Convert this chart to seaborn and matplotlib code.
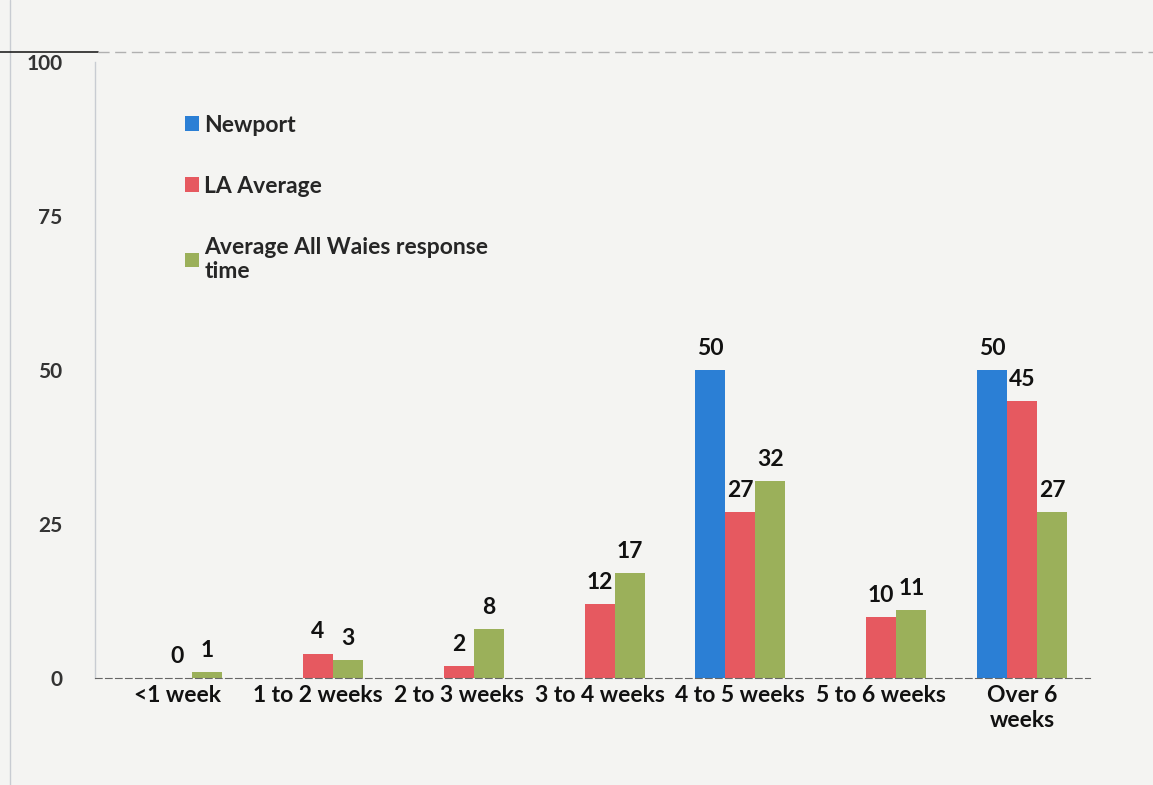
import numpy as np
import pandas as pd
import matplotlib
matplotlib.use("Agg")
import matplotlib.pyplot as plt
import seaborn as sns

categories = ["<1 week", "1 to 2 weeks", "2 to 3 weeks", "3 to 4 weeks",
              "4 to 5 weeks", "5 to 6 weeks", "Over 6\nweeks"]
newport = [np.nan, np.nan, np.nan, np.nan, 50, np.nan, 50]
la_average = [0, 4, 2, 12, 27, 10, 45]
all_wales = [1, 3, 8, 17, 32, 11, 27]
series_names = ["Newport", "LA Average", "Average All Waies response\ntime"]
yticks = [0, 25, 50, 75, 100]

colors = ["#2b7fd5", "#e65960", "#9bb05a"]
bg = "#f4f4f2"

df = pd.DataFrame({
    "cat": categories * 3,
    "val": newport + la_average + all_wales,
    "series": [series_names[0]] * 7 + [series_names[1]] * 7 + [series_names[2]] * 7,
})

sns.set_style("white")
plt.rcParams["font.family"] = ["Lato", "DejaVu Sans"]
plt.rcParams["font.weight"] = "bold"

fig = plt.figure(figsize=(11.53, 7.85), dpi=100, facecolor=bg)
ax = fig.add_axes([0.082, 0.136, 0.863, 0.785])
ax.set_facecolor(bg)

sns.barplot(data=df, x="cat", y="val", hue="series", palette=colors,
            errorbar=None, width=0.64, saturation=1, linewidth=0, ax=ax)

# value labels, skip the missing Newport bars
for cont in ax.containers:
    for p in cont:
        h = p.get_height()
        if np.isnan(h):
            continue
        ax.text(p.get_x() + p.get_width() / 2, h + 1.8, "%d" % h,
                ha="center", va="bottom", fontsize=16.5, fontweight="bold",
                color="#111111")

ax.set_ylim(0, 100)
ax.set_xlim(-0.586, 6.48)
ax.set_yticks(yticks)
ax.set_xlabel("")
ax.set_ylabel("")
ax.tick_params(axis="y", labelsize=15, colors="#333333", length=3, pad=20)
ax.tick_params(axis="x", labelsize=16.5, length=0, pad=5)
for t in ax.get_xticklabels():
    t.set_fontweight("bold")
    t.set_color("#111111")
for t in ax.get_yticklabels():
    t.set_fontweight("bold")

ax.spines["right"].set_visible(False)
ax.spines["top"].set_visible(False)
ax.spines["left"].set_color("#c8ccd2")
ax.spines["left"].set_linewidth(1.0)
ax.spines["bottom"].set_color("#666666")
ax.spines["bottom"].set_linestyle((0, (6, 3)))

# scanned page frame
fig.add_artist(plt.Line2D([0.009, 0.009], [0.0, 1.0], color="#c8ccd2", lw=1))
fig.add_artist(plt.Line2D([0.0, 0.085], [0.934, 0.934], color="#222222", lw=1.2))
fig.add_artist(plt.Line2D([0.085, 1.0], [0.934, 0.934], color="#b0b0b0", lw=1,
                          linestyle=(0, (8, 4))))

sns.move_legend(ax, loc="upper left", bbox_to_anchor=(0.07, 0.948),
                frameon=False, title=None, fontsize=16.5, labelspacing=1.75,
                handlelength=0.6, handleheight=0.6, handletextpad=0.25)
for t in ax.get_legend().get_texts():
    t.set_fontweight("bold")

fig.savefig("out.png", dpi=100, facecolor=bg)
